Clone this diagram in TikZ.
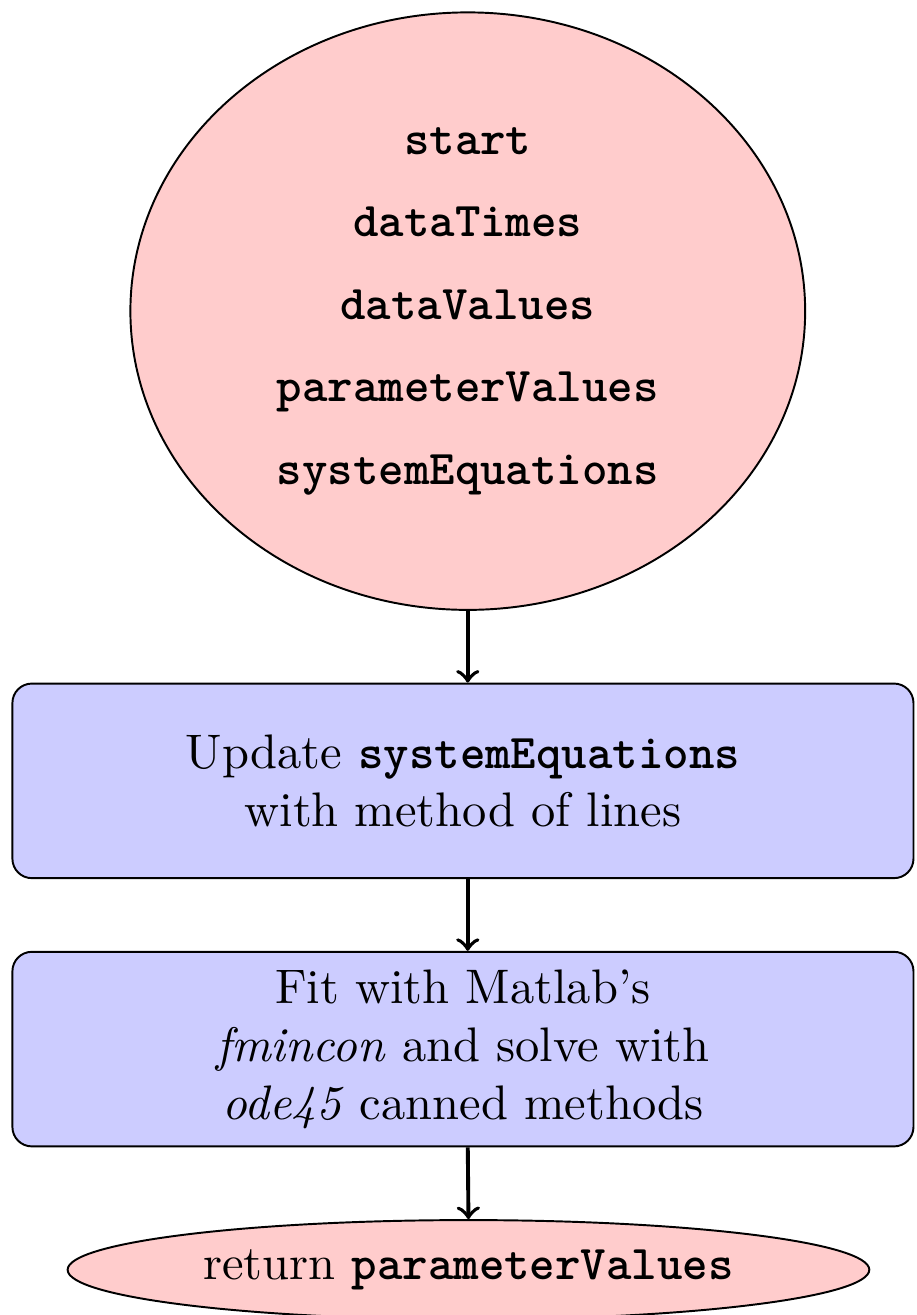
\documentclass[tikz,border=0pt]{standalone}
\usetikzlibrary{shapes.geometric,positioning}

\tikzset{
  startstop/.style={ellipse, draw, fill=red!20, align=center, inner sep=0pt},
  process/.style={rectangle, rounded corners, draw, fill=blue!20, align=center,
    inner sep=2pt, minimum width=6.53cm, minimum height=1.41cm},
  arrow/.style={thick, ->}
}
\newcommand{\code}[1]{\texttt{\bfseries #1}}

\begin{document}
\begin{tikzpicture}[node distance=0.52cm]
  \useasboundingbox (0,0) rectangle (6.645,9.53);
  \node (start) [startstop, minimum width=4.89cm, minimum height=4.33cm] at (3.39,7.275)
    {\code{start}\\[5pt] \code{dataTimes}\\[5pt] \code{dataValues}\\[5pt]
     \code{parameterValues}\\[5pt] \code{systemEquations}};
  \node (update) [process, below=of start, xshift=-0.035cm] {Update \code{systemEquations}\\with method of lines};
  \node (fit) [process, below=of update] {Fit with Matlab's\\\emph{fmincon} and solve with\\\emph{ode45} canned methods};
  \node (stop) [startstop, below=of fit, xshift=0.04cm, minimum width=5.81cm, minimum height=0.72cm] {return \code{parameterValues}};

  \draw [arrow] (start.south) -- (start.south |- update.north);
  \draw [arrow] (start.south |- update.south) -- (start.south |- fit.north);
  \draw [arrow] (start.south |- fit.south) -- (stop.north);
\end{tikzpicture}
\end{document}
